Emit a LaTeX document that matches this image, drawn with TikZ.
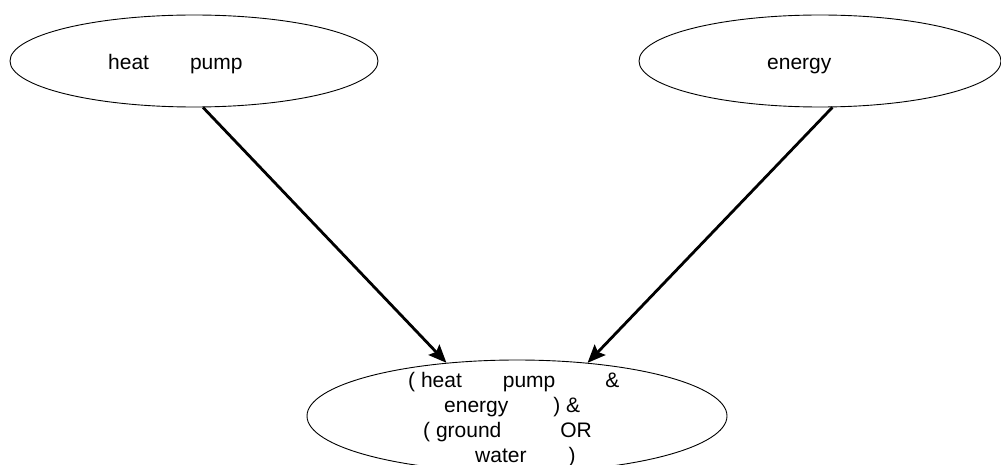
\documentclass[tikz,border=0pt]{standalone}
\usepackage{fontspec}
\setmainfont{Liberation Sans}
\usetikzlibrary{shapes.geometric,arrows.meta}
\begin{document}
\begin{tikzpicture}[x=1pt,y=-1pt,
  concept/.style={draw=black, line width=0.9pt, ellipse, inner sep=0pt},
  caption/.style={inner sep=0pt, anchor=base west, align=left,
    font=\fontsize{21}{25}\selectfont},
  link/.style={line width=2.8pt, -{Stealth[length=18pt,width=15pt,inset=3pt]}}]
\useasboundingbox (0,0) rectangle (1001,465);

% the two source concepts
\node[concept, minimum width=368pt, minimum height=92pt] (heatpump) at (194,61) {};
\node[caption] (heatpumpText) at (108,70) {heat\hspace{41pt}pump};

\node[concept, minimum width=362pt, minimum height=92pt] (energy) at (820,61) {};
\node[caption] (energyText) at (767,70) {energy};

% the combined query (base anchor of a multi-line node sits on its last line)
\node[concept, minimum width=420pt, minimum height=112pt] (goal) at (517,416) {};
\node[caption] (goalText) at (408,462)
  {(~heat\hspace{41pt}pump\hspace{50pt}\&\\
   \hspace*{36pt}energy\hspace{45pt})~\&\\
   \hspace*{15pt}(~ground\hspace{59pt}OR\\
   \hspace*{67pt}water\hspace{42pt})};

% connectors
\draw[link] (heatpump.-79) -- (goal.143);
\draw[link] (energy.-75) -- (goal.37);
\end{tikzpicture}
\end{document}
